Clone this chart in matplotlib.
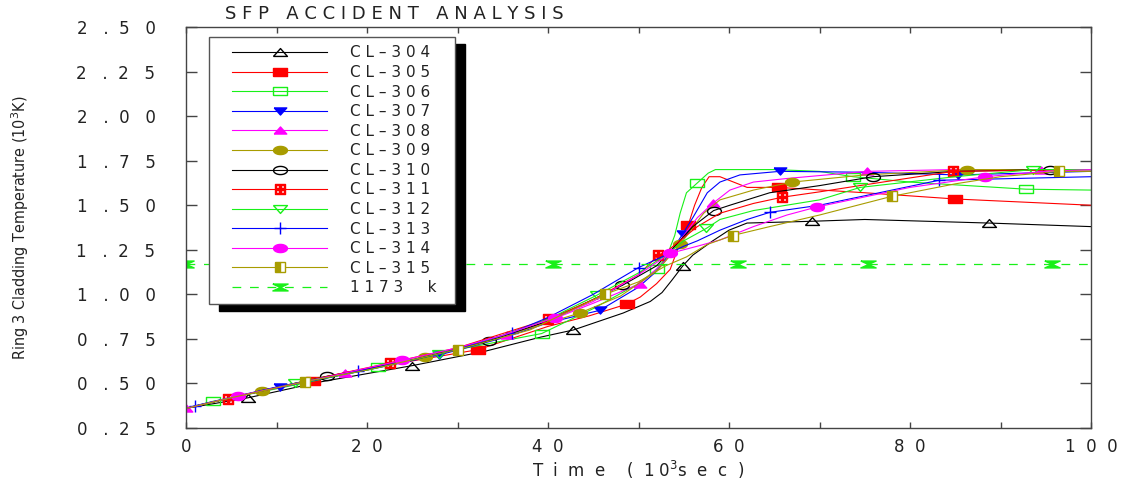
import numpy as np
import matplotlib
matplotlib.use('Agg')
import matplotlib.pyplot as plt
from matplotlib.legend_handler import HandlerLine2D
from matplotlib.lines import Line2D

# Ring 3 cladding temperature (10^3 K) vs time (10^3 s)
T_304 = [0, 6.9, 15, 25, 33, 39.2, 42.8, 48.3, 51.3, 52.6, 53.7, 54.3, 54.9, 56, 58.2, 60, 62, 69.2, 75, 88.7, 100]
V_304 = [0.36, 0.42, 0.51, 0.60, 0.68, 0.76, 0.80, 0.895, 0.96, 1.01, 1.08, 1.12, 1.16, 1.22, 1.30, 1.36, 1.40, 1.41, 1.42, 1.40, 1.38]
M_304 = [6.9, 25, 42.8, 54.9, 69.2, 88.7]

T_305 = [0, 5, 14, 22, 32.3, 40, 44.6, 48.7, 50.2, 52, 53.5, 54.3, 55.5, 56.2, 57, 57.8, 59, 60.5, 62, 65.5, 75, 85, 100]
V_305 = [0.36, 0.42, 0.515, 0.60, 0.69, 0.82, 0.88, 0.945, 0.985, 1.06, 1.14, 1.25, 1.39, 1.50, 1.60, 1.66, 1.66, 1.63, 1.60, 1.60, 1.57, 1.535, 1.50]
M_305 = [14, 32.3, 48.7, 55.5, 65.5, 85]

T_306 = [0, 3, 10, 21.2, 30, 39.3, 45, 50, 52, 53.1, 54, 54.6, 55.3, 56.5, 57.7, 58.5, 65, 70, 73.7, 80, 92.8, 100]
V_306 = [0.36, 0.40, 0.47, 0.59, 0.69, 0.78, 0.92, 1.06, 1.14, 1.21, 1.33, 1.455, 1.57, 1.625, 1.68, 1.70, 1.70, 1.69, 1.66, 1.63, 1.59, 1.585]
M_306 = [3, 21.2, 39.3, 52, 56.5, 73.7, 92.8]

T_307 = [0, 5, 10.4, 20, 28, 35, 40, 45.7, 50, 52, 53.5, 54.9, 56, 57.6, 59, 61.2, 65.6, 75, 85.3, 100]
V_307 = [0.36, 0.42, 0.48, 0.575, 0.66, 0.755, 0.84, 0.91, 1.04, 1.13, 1.23, 1.34, 1.43, 1.57, 1.63, 1.67, 1.69, 1.685, 1.67, 1.69]
M_307 = [10.4, 28, 45.7, 54.9, 65.6, 85.3]

T_308 = [0, 5, 10, 17.6, 25, 30, 35.5, 40, 45, 50.2, 53, 55, 56.5, 58.2, 60.1, 62.7, 66.4, 75.2, 85, 94.5, 100]
V_308 = [0.36, 0.42, 0.475, 0.56, 0.63, 0.695, 0.77, 0.85, 0.95, 1.06, 1.19, 1.33, 1.43, 1.51, 1.585, 1.63, 1.65, 1.69, 1.70, 1.70, 1.70]
M_308 = [0, 17.6, 35.5, 50.2, 58.2, 75.2, 94.5]

T_309 = [0, 8.4, 15, 20, 26.4, 32, 38, 43.5, 48, 52, 54.6, 57.2, 59, 62.7, 67, 75, 86.3, 100]
V_309 = [0.36, 0.46, 0.535, 0.58, 0.65, 0.72, 0.81, 0.895, 0.99, 1.13, 1.28, 1.455, 1.53, 1.585, 1.63, 1.67, 1.70, 1.70]
M_309 = [8.4, 26.4, 43.5, 54.6, 67, 86.3]

T_310 = [0, 5, 15.6, 25, 33.5, 40, 48.2, 52, 54, 56, 58.3, 60.1, 64.5, 70, 75.9, 85, 95.5, 100]
V_310 = [0.36, 0.42, 0.54, 0.63, 0.74, 0.85, 1.05, 1.16, 1.27, 1.38, 1.47, 1.50, 1.57, 1.61, 1.66, 1.69, 1.70, 1.70]
M_310 = [15.6, 33.5, 48.2, 58.3, 75.9, 95.5]

T_311 = [0, 4.6, 12, 22.5, 30, 40, 45, 50, 52.2, 53.1, 56.5, 59, 62.7, 65.9, 70, 77, 84.8, 100]
V_311 = [0.36, 0.415, 0.50, 0.615, 0.70, 0.86, 0.97, 1.11, 1.22, 1.24, 1.38, 1.455, 1.51, 1.545, 1.575, 1.63, 1.69, 1.70]
M_311 = [4.6, 22.5, 40, 52.2, 65.9, 84.8]

T_312 = [0, 5, 12, 20, 28, 35, 40, 45.4, 50, 53, 55, 57.5, 59, 62.7, 70, 74.5, 85, 93.6, 100]
V_312 = [0.36, 0.42, 0.50, 0.575, 0.665, 0.77, 0.86, 0.995, 1.12, 1.22, 1.30, 1.37, 1.42, 1.47, 1.53, 1.60, 1.66, 1.70, 1.70]
M_312 = [12, 28, 45.4, 57.5, 74.5, 93.6]

T_313 = [0, 1, 10, 19, 28, 36, 40, 45, 50, 53, 55, 56.5, 59, 62, 64.5, 70, 83.2, 100]
V_313 = [0.36, 0.375, 0.48, 0.57, 0.665, 0.785, 0.87, 1.0, 1.15, 1.22, 1.27, 1.30, 1.36, 1.42, 1.46, 1.50, 1.64, 1.66]
M_313 = [1, 19, 36, 50, 64.5, 83.2]

T_314 = [0, 5.7, 15, 23.9, 30, 35, 40.8, 45, 50, 53.5, 56.5, 59, 62.7, 66.4, 69.7, 80, 88.3, 95, 100]
V_314 = [0.36, 0.43, 0.53, 0.63, 0.70, 0.77, 0.87, 0.96, 1.11, 1.23, 1.27, 1.305, 1.38, 1.445, 1.49, 1.60, 1.66, 1.69, 1.70]
M_314 = [5.7, 23.9, 40.8, 53.5, 69.7, 88.3]

T_315 = [0, 5, 13.1, 20, 30, 38, 46.3, 50, 53, 55.3, 57.6, 60.4, 64.5, 70, 78, 85, 90, 96.5, 100]
V_315 = [0.36, 0.42, 0.51, 0.575, 0.69, 0.80, 1.00, 1.07, 1.16, 1.21, 1.28, 1.33, 1.38, 1.445, 1.55, 1.62, 1.66, 1.69, 1.69]
M_315 = [13.1, 30, 46.3, 60.4, 78, 96.5]

T_LIM = [0, 20.2, 40.6, 61, 75.4, 95.7, 100]
V_LIM = [1.173, 1.173, 1.173, 1.173, 1.173, 1.173, 1.173]
M_LIM = [0, 20.2, 40.6, 61, 75.4, 95.7]

Y_TICKS = [0.25, 0.50, 0.75, 1.00, 1.25, 1.50, 1.75, 2.00, 2.25, 2.50]
X_TICKS = [0, 20, 40, 60, 80, 100]

# marker shapes (wide, as in the original raster)
ang = np.linspace(0, 2 * np.pi, 41)
ELLIPSE = list(zip(1.7 * np.cos(ang), np.sin(ang)))
RECT = [(-1.5, -1), (1.5, -1), (1.5, 1), (-1.5, 1), (-1.5, -1)]
TRI_UP = [(-1.5, -0.85), (1.5, -0.85), (0, 0.85), (-1.5, -0.85)]
TRI_DN = [(-1.5, 0.85), (1.5, 0.85), (0, -0.85), (-1.5, 0.85)]
HOURGLASS = [(-1, 0.45), (1, 0.45), (-1, -0.45), (1, -0.45), (-1, 0.45)]

LIME = '#18f018'
OLIVE = '#a89c00'

series = [
    ('CL-304', T_304, V_304, M_304, dict(color='black', marker=TRI_UP, mfc='none', ms=10)),
    ('CL-305', T_305, V_305, M_305, dict(color='red', marker=RECT, mfc='red', ms=9.5)),
    ('CL-306', T_306, V_306, M_306, dict(color=LIME, marker=RECT, mfc='none', ms=9.5)),
    ('CL-307', T_307, V_307, M_307, dict(color='blue', marker=TRI_DN, mfc='blue', ms=9)),
    ('CL-308', T_308, V_308, M_308, dict(color='magenta', marker=TRI_UP, mfc='magenta', ms=9)),
    ('CL-309', T_309, V_309, M_309, dict(color=OLIVE, marker=ELLIPSE, mfc=OLIVE, ms=10)),
    ('CL-310', T_310, V_310, M_310, dict(color='black', marker=ELLIPSE, mfc='none', ms=10)),
    ('CL-311', T_311, V_311, M_311, dict(color='red', marker=r'$\boxplus$', mfc='red', ms=7)),
    ('CL-312', T_312, V_312, M_312, dict(color=LIME, marker=TRI_DN, mfc='none', ms=10)),
    ('CL-313', T_313, V_313, M_313, dict(color='blue', marker='+', mfc='blue', ms=8)),
    ('CL-314', T_314, V_314, M_314, dict(color='magenta', marker=ELLIPSE, mfc='magenta', ms=10)),
    ('CL-315', T_315, V_315, M_315, dict(color=OLIVE, marker='s', mfc=OLIVE, ms=7,
                                          fillstyle='left', markerfacecoloralt='white')),
]

fig = plt.figure(figsize=(11.46, 4.90), dpi=100)
ax = fig.add_axes([186 / 1146, 1 - 428 / 490, 905 / 1146, 401 / 490])

lines = []
for name, t, v, marks, st in series:
    idx = [t.index(m) for m in marks]
    ln, = ax.plot(t, v, lw=0.8, markevery=idx, mew=1.0, label=name, **st)
    lines.append(ln)

ln, = ax.plot(T_LIM, V_LIM, color=LIME, lw=0.9, dashes=(7, 7), marker=HOURGLASS,
              ms=11, mfc=LIME, mec=LIME, markevery=[T_LIM.index(m) for m in M_LIM],
              label='1173  k')
lines.append(ln)

ax.set_xlim(0, 100)
ax.set_ylim(0.25, 2.5)

ax.set_xticks(X_TICKS)
ax.set_xticks([10, 30, 50, 70, 90], minor=True)
ax.set_xticklabels(['  '.join(str(x)) for x in X_TICKS])
ax.set_yticks(Y_TICKS)
ax.set_yticklabels([f'{y:.2f}'[0] + '   .  ' + f'{y:.2f}'[2] + '   ' + f'{y:.2f}'[3]
                    for y in Y_TICKS])

ax.tick_params(which='both', direction='in', top=True, right=True, colors='#444',
               labelcolor='#222', labelsize=12, width=1)
ax.tick_params(axis='x', which='both', length=4.5, pad=7)
ax.tick_params(axis='y', which='major', length=8, pad=22)
for sp in ax.spines.values():
    sp.set_color('#444')
    sp.set_linewidth(1)

ax.set_xlabel('T  i  m  e    (  1 0$^3$s  e  c  )', fontsize=12, color='#222', va='center')
ax.xaxis.set_label_coords(0.5, -0.105)
ax.set_ylabel('Ring 3 Cladding Temperature (10$^3$K)', fontsize=11.5, color='#222',
              family='DejaVu Sans', fontstretch='condensed', va='center')
ax.yaxis.set_label_coords(-0.183, 0.5)

fig.text(225 / 1146, 1 - 14 / 490, 'S F P   A C C I D E N T   A N A L Y S I S',
         fontsize=13, color='#222', ha='left', va='center')

leg = ax.legend(handles=lines,
                labels=[' '.join(l.get_label()).replace('-', '–') + '  ' for l in lines],
                loc='upper left', bbox_to_anchor=(23 / 905, (428 - 37) / 401),
                borderaxespad=0, fontsize=11, numpoints=1, handlelength=7.2,
                handletextpad=1.5, labelspacing=0.3, borderpad=0.55,
                fancybox=False, framealpha=1, edgecolor='#555',
                shadow={'color': 'black', 'alpha': 1, 'ox': 7, 'oy': -5},
                handler_map={Line2D: HandlerLine2D(xpad=0.96)})
leg.get_frame().set_linewidth(1)
for txt in leg.get_texts():
    txt.set_color('#222')

fig.savefig('out.png', dpi=100)
